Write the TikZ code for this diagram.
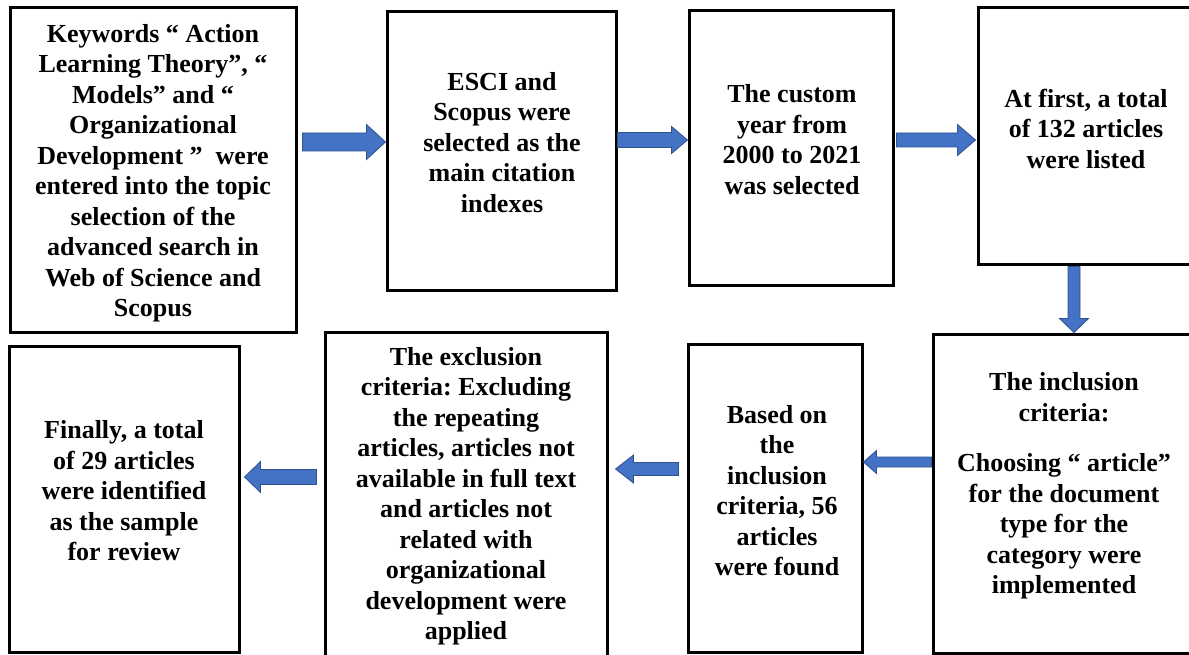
\documentclass[tikz,border=0pt]{standalone}
\usepackage{fontspec}
\setmainfont{Liberation Serif}
\usetikzlibrary{calc}
\frenchspacing

\definecolor{arrowblue}{HTML}{4472C4}
\definecolor{arrowedge}{HTML}{2F528F}

% Block arrow from #1 (tail) to #2 (tip):
% #3 half shaft width, #4 half head width, #5 head length
\newcommand\blockarrow[5]{%
  \coordinate (ah) at ($(#2)!#5!(#1)$);
  \filldraw[flowarrow]
    ($(#1)!#3!90:(#2)$) -- ($(ah)!#3!90:(#2)$) -- ($(ah)!#4!90:(#2)$) -- (#2)
    -- ($(ah)!#4!-90:(#2)$) -- ($(ah)!#3!-90:(#2)$) -- ($(#1)!#3!-90:(#2)$) -- cycle;}

\tikzset{
  stagebox/.style={draw=black, line width=3pt, inner sep=0pt},
  stagetext/.style={font=\fontsize{26}{30.5}\selectfont\bfseries, align=center, inner sep=0pt},
  flowarrow/.style={fill=arrowblue, draw=arrowedge, line width=0.8pt, line join=miter},
}

\begin{document}
\begin{tikzpicture}[x=1pt, y=-1pt]
\path[use as bounding box] (0,0) rectangle (1189,655);
\clip (0,0) rectangle (1189,655);
\fill[white] (0,0) rectangle (1189,655);

% ---- stage frames ----
\node[stagebox, minimum width=286pt, minimum height=324pt] (b1) at (153,170) {};
\node[stagebox, minimum width=229pt, minimum height=278pt] (b2) at (501.5,151) {};
\node[stagebox, minimum width=204pt, minimum height=274pt] (b3) at (791,148) {};
\node[stagebox, minimum width=217pt, minimum height=257pt] (b4) at (1086.5,136.5) {};
\node[stagebox, minimum width=262pt, minimum height=319pt] (b5) at (1064,493.5) {};
\node[stagebox, minimum width=174pt, minimum height=308pt] (b6) at (775,498) {};
\node[stagebox, minimum width=282pt, minimum height=326pt] (b7) at (466,495) {};
\node[stagebox, minimum width=230pt, minimum height=306pt] (b8) at (124,499) {};

% ---- stage texts ----
\node[stagetext] (t1) at (153,173) {Keywords “ Action\\Learning Theory”, “\\Models” and “\\Organizational\\Development ”~ were\\entered into the topic\\selection of the\\advanced search in\\Web of Science and\\Scopus};
\node[stagetext] (t2) at (502,142.5) {ESCI and\\Scopus were\\selected as the\\main citation\\indexes};
\node[stagetext] (t3) at (792,139.5) {The custom\\year from\\2000 to 2021\\was selected};
\node[stagetext] (t4) at (1086,128.5) {At first, a total\\of 132 articles\\were listed};
\node[stagetext] (t5) at (1064,486) {The inclusion\\criteria:\\[20pt]Choosing “ article”\\for the document\\type for the\\category were\\implemented};
\node[stagetext] (t6) at (777,490.5) {Based on\\the\\inclusion\\criteria, 56\\articles\\were found};
\node[stagetext] (t7) at (466,496) {The exclusion\\criteria: Excluding\\the repeating\\articles, articles not\\available in full text\\and articles not\\related with\\organizational\\development were\\applied};
\node[stagetext] (t8) at (124,491) {Finally, a total\\of 29 articles\\were identified\\as the sample\\for review};

% ---- arrow levels ----
\coordinate (r1) at (0,142);
\coordinate (r2) at (0,140);
\coordinate (r3) at (0,140);
\coordinate (c4) at (1074,0);
\coordinate (r5) at (0,462);
\coordinate (r6) at (0,469);
\coordinate (r7) at (0,477);

\coordinate (a1s) at ($(b1.east |- r1)+(5,0)$);
\coordinate (a1e) at (b2.west |- r1);
\coordinate (a2s) at (b2.east |- r2);
\coordinate (a2e) at (b3.west |- r2);
\coordinate (a3s) at ($(b3.east |- r3)+(2,0)$);
\coordinate (a3e) at ($(b4.west |- r3)+(-1,0)$);
\coordinate (a4s) at (b4.south -| c4);
\coordinate (a4e) at (b5.north -| c4);
\coordinate (a5s) at (b5.west |- r5);
\coordinate (a5e) at (b6.east |- r5);
\coordinate (a6s) at ($(b6.west |- r6)+(-8,0)$);
\coordinate (a6e) at ($(b7.east |- r6)+(7,0)$);
\coordinate (a7s) at ($(b7.west |- r7)+(-7,0)$);
\coordinate (a7e) at ($(b8.east |- r7)+(4,0)$);

% ---- flow arrows ----
\blockarrow{a1s}{a1e}{9pt}{17.5pt}{19pt}
\blockarrow{a2s}{a2e}{7.5pt}{13.5pt}{16pt}
\blockarrow{a3s}{a3e}{7pt}{15.5pt}{18pt}
\blockarrow{a4s}{a4e}{6pt}{14.5pt}{14pt}
\blockarrow{a5s}{a5e}{5pt}{11.5pt}{13pt}
\blockarrow{a6s}{a6e}{6.5pt}{14pt}{18pt}
\blockarrow{a7s}{a7e}{7.5pt}{15.5pt}{16pt}
\end{tikzpicture}
\end{document}
